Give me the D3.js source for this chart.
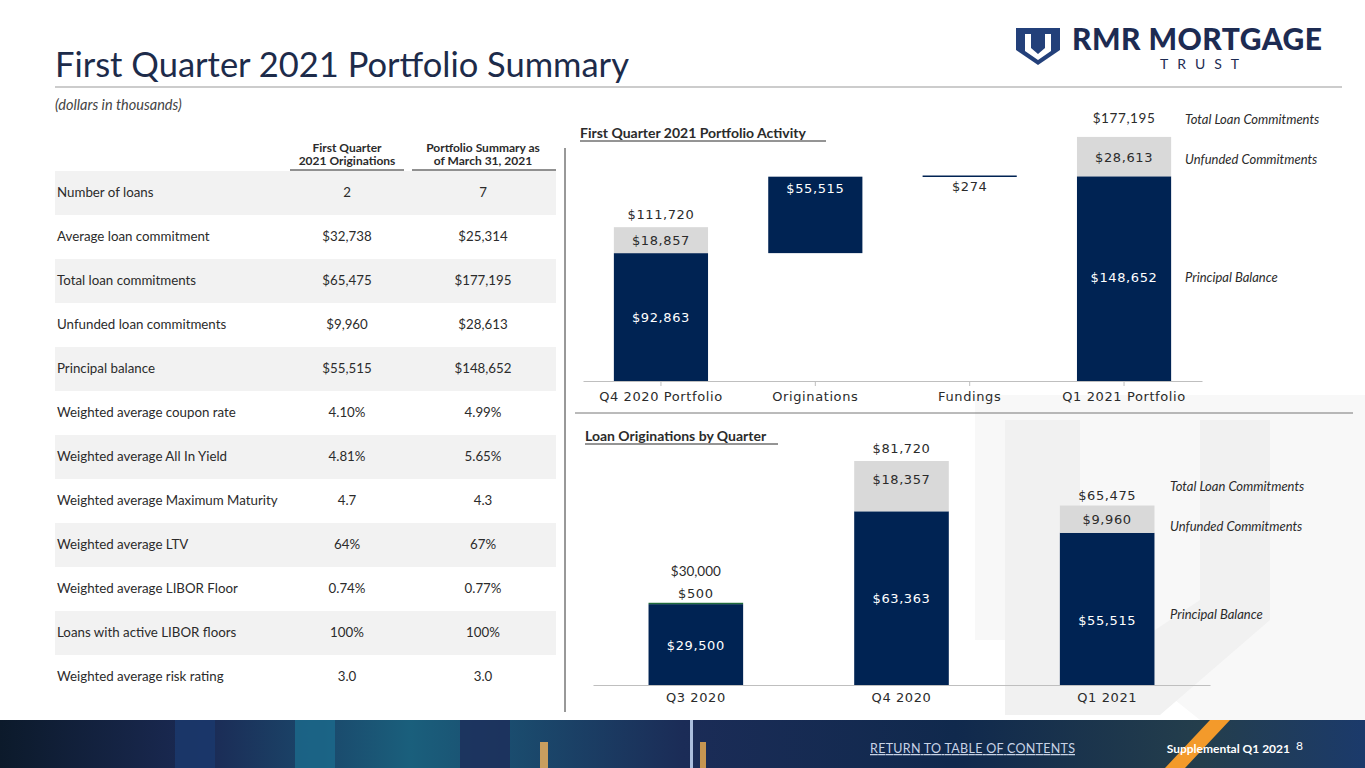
<!DOCTYPE html>
<html><head><meta charset="utf-8">
<script src="https://cdn.jsdelivr.net/npm/d3@7"></script>
<style>
body{margin:0;background:#fff;}
text{font-family:Lato,"Open Sans",sans-serif;}
.num{font-family:"DejaVu Sans",sans-serif;font-size:13px;letter-spacing:0.6px;}
</style></head><body>
<svg id="s" width="1365" height="768"></svg>
<script>
// table
const tableRows = ["Number of loans","Average loan commitment","Total loan commitments","Unfunded loan commitments","Principal balance","Weighted average coupon rate","Weighted average All In Yield","Weighted average Maximum Maturity","Weighted average LTV","Weighted average LIBOR Floor","Loans with active LIBOR floors","Weighted average risk rating"];
const colOriginations = ["2","$32,738","$65,475","$9,960","$55,515","4.10%","4.81%","4.7","64%","0.74%","100%","3.0"];
const colPortfolio = ["7","$25,314","$177,195","$28,613","$148,652","4.99%","5.65%","4.3","67%","0.77%","100%","3.0"];
// waterfall
const wfCats = ["Q4 2020 Portfolio","Originations","Fundings","Q1 2021 Portfolio"];
const wfBase = [0, 92863, 148378, 0];
const wfPrincipal = [92863, 55515, 274, 148652];
const wfUnfunded = [18857, 0, 0, 28613];
const wfTotals = ["$111,720", null, null, "$177,195"];
// originations by quarter
const qCats = ["Q3 2020","Q4 2020","Q1 2021"];
const qPrincipal = [29500, 63363, 55515];
const qUnfunded = [500, 18357, 9960];
const qTotals = ["$30,000","$81,720","$65,475"];

const NAVY="#002353", GREY="#d9d9d9", TXT="#2b2b2b", TITLE="#1d2b4a";
const svg = d3.select("#s");

// watermark
svg.append("path").attr("d","M975,395 L1365,395 L1365,720 L1200,720 L1100,640 L975,640 Z").attr("fill","#f8f8f8");
svg.append("path").attr("d","M1005,420 L1080,420 L1080,600 L1140,640 L1200,600 L1200,420 L1270,420 L1270,620 L1160,715 L1005,715 Z").attr("fill","#f1f1f1");

// header
svg.append("text").attr("x",55).attr("y",77).attr("font-size",34.5).attr("fill",TITLE).text("First Quarter 2021 Portfolio Summary");
svg.append("line").attr("x1",55).attr("x2",1342).attr("y1",87).attr("y2",87).attr("stroke","#999").attr("stroke-width",1);
svg.append("text").attr("x",55).attr("y",110).attr("font-size",14.5).attr("font-style","italic").attr("fill","#444").text("(dollars in thousands)");

// logo
const lg = svg.append("g").attr("transform","translate(1016,28)");
lg.append("path").attr("d","M0,0 L44,0 L44,22 L22,37 L0,22 Z").attr("fill","#23407a");
lg.append("path").attr("d","M9,6 L15,6 L15,20 L22,26 L29,20 L29,6 L35,6 L35,23 L22,32 L9,23 Z").attr("fill","#fff");
svg.append("text").attr("x",1072).attr("y",50).attr("font-size",30).attr("font-weight",900).attr("fill","#1d2b52").attr("textLength",250).text("RMR MORTGAGE");
svg.append("text").attr("x",1160).attr("y",69).attr("font-size",14).attr("letter-spacing",9).attr("fill","#1d2b52").text("TRUST");

// table
const rowY = d3.scaleBand().domain(d3.range(tableRows.length)).range([171,699]);
const colX = [347, 483];
const tg = svg.append("g");
[["First Quarter","2021 Originations"],["Portfolio Summary as","of March 31, 2021"]].forEach((h,i)=>{
  h.forEach((t,j)=>tg.append("text").attr("x",colX[i]).attr("y",152+j*13).attr("text-anchor","middle").attr("font-size",12).attr("font-weight",700).attr("fill",TXT).text(t));
});
tg.append("line").attr("x1",290).attr("x2",404).attr("y1",170).attr("y2",170).attr("stroke","#222");
tg.append("line").attr("x1",412).attr("x2",556).attr("y1",170).attr("y2",170).attr("stroke","#222");
tableRows.forEach((r,i)=>{
  const y=rowY(i);
  if(i%2===0) tg.append("rect").attr("x",55).attr("y",y).attr("width",501).attr("height",rowY.bandwidth()).attr("fill","#f2f2f2");
  const cy=y+rowY.bandwidth()/2+4;
  tg.append("text").attr("x",57).attr("y",cy).attr("font-size",13.3).attr("fill",TXT).text(r);
  tg.append("text").attr("x",colX[0]).attr("y",cy).attr("text-anchor","middle").attr("font-size",13.3).attr("fill",TXT).text(colOriginations[i]);
  tg.append("text").attr("x",colX[1]).attr("y",cy).attr("text-anchor","middle").attr("font-size",13.3).attr("fill",TXT).text(colPortfolio[i]);
});
svg.append("line").attr("x1",565).attr("x2",565).attr("y1",148).attr("y2",712).attr("stroke","#333");

function legendText(x,y,t){svg.append("text").attr("x",x).attr("y",y).attr("font-size",13).attr("font-style","italic").attr("fill",TXT).text(t);}
function chartTitle(x,y,t,w){svg.append("text").attr("x",x).attr("y",y).attr("font-size",14).attr("font-weight",700).attr("fill",TXT).text(t);
  svg.append("line").attr("x1",x).attr("x2",x+w).attr("y1",y+3).attr("y2",y+3).attr("stroke",TXT);}

// waterfall chart
chartTitle(580,138,"First Quarter 2021 Portfolio Activity",246);
const x1 = d3.scaleBand().domain(wfCats).range([583,1202]).paddingInner(0.39).paddingOuter(0.2);
const y1 = d3.scaleLinear().domain([0,177195]).range([381,137]);
const g1 = svg.append("g");
g1.append("g").attr("transform","translate(0,381)").call(d3.axisBottom(x1).tickSize(5).tickSizeOuter(0))
  .call(a=>{a.select(".domain").attr("stroke","#bfbfbf");a.selectAll(".tick line").attr("stroke","#bfbfbf");
    a.selectAll("text").attr("class","num").attr("fill",TXT).attr("dy","0.9em");});
wfCats.forEach((c,i)=>{
  const x=x1(c), w=x1.bandwidth(), b=wfBase[i], p=wfPrincipal[i], u=wfUnfunded[i];
  const top=y1(b+p), bot=y1(b);
  if(i===2){
    g1.append("line").attr("x1",x).attr("x2",x+w).attr("y1",top).attr("y2",top).attr("stroke",NAVY).attr("stroke-width",1.5);
    g1.append("text").attr("class","num").attr("x",x+w/2).attr("y",top+15).attr("text-anchor","middle").attr("fill",TXT).text("$"+d3.format(",")(p));
    return;
  }
  g1.append("rect").attr("x",x).attr("y",top).attr("width",w).attr("height",bot-top).attr("fill",NAVY);
  const ly = i===1 ? top+16 : (i===3 ? top+106 : (top+bot)/2+5);
  g1.append("text").attr("class","num").attr("x",x+w/2).attr("y",ly).attr("text-anchor","middle").attr("fill","#fff").text("$"+d3.format(",")(p));
  if(u){
    const ut=y1(b+p+u);
    g1.append("rect").attr("x",x).attr("y",ut).attr("width",w).attr("height",top-ut).attr("fill",GREY);
    g1.append("text").attr("class","num").attr("x",x+w/2).attr("y",(ut+top)/2+5).attr("text-anchor","middle").attr("fill",TXT).text("$"+d3.format(",")(u));
  }
  if(wfTotals[i]) g1.append("text").attr("class","num").attr("x",x+w/2).attr("y",y1(b+p+u)-(i===3?14:8)).attr("text-anchor","middle").attr("fill",TXT).style("font-family",i===3?"Lato":null).style("font-size",i===3?"13.5px":null).text(wfTotals[i]);
});
legendText(1185,124,"Total Loan Commitments");
legendText(1185,164,"Unfunded Commitments");
legendText(1185,282,"Principal Balance");

svg.append("line").attr("x1",575).attr("x2",1353).attr("y1",413).attr("y2",413).attr("stroke","#777");

// originations by quarter
chartTitle(585,441,"Loan Originations by Quarter",193);
const x2 = d3.scaleBand().domain(qCats).range([593,1210]).paddingInner(0.54).paddingOuter(0.27);
const y2 = d3.scaleLinear().domain([0,81720]).range([685,461]);
const g2 = svg.append("g");
g2.append("g").attr("transform","translate(0,685)").call(d3.axisBottom(x2).tickSize(0).tickSizeOuter(0))
  .call(a=>{a.select(".domain").attr("stroke","#bfbfbf");
    a.selectAll("text").attr("class","num").attr("fill",TXT).attr("dy","1.1em");});
qCats.forEach((c,i)=>{
  const x=x2(c), w=x2.bandwidth(), p=qPrincipal[i], u=qUnfunded[i];
  const top=y2(p), ut=y2(p+u);
  g2.append("rect").attr("x",x).attr("y",top).attr("width",w).attr("height",685-top).attr("fill",NAVY);
  g2.append("text").attr("class","num").attr("x",x+w/2).attr("y",i===0?(top+685)/2+5:top+92).attr("text-anchor","middle").attr("fill","#fff").text("$"+d3.format(",")(p));
  if(i===0){
    g2.append("rect").attr("x",x).attr("y",ut).attr("width",w).attr("height",top-ut).attr("fill","#1f6b3a");
    g2.append("text").attr("class","num").attr("x",x+w/2).attr("y",ut-5).attr("text-anchor","middle").attr("fill",TXT).text("$"+u);
    g2.append("text").attr("x",x+w/2).attr("y",ut-27).attr("text-anchor","middle").attr("font-size",13.5).attr("fill",TXT).text(qTotals[i]);
  } else {
    g2.append("rect").attr("x",x).attr("y",ut).attr("width",w).attr("height",top-ut).attr("fill",GREY);
    g2.append("text").attr("class","num").attr("x",x+w/2).attr("y",(ut+top)/2+(i===1?-2:5)).attr("text-anchor","middle").attr("fill",TXT).text("$"+d3.format(",")(u));
    g2.append("text").attr("class","num").attr("x",x+w/2).attr("y",ut-(i===1?8:6)).attr("text-anchor","middle").attr("fill",TXT).text(qTotals[i]);
  }
});
legendText(1170,491,"Total Loan Commitments");
legendText(1170,531,"Unfunded Commitments");
legendText(1170,619,"Principal Balance");

// footer
const defs = svg.append("defs");
const gr = defs.append("linearGradient").attr("id","fg");
[["0%","#0c1a2b"],["15%","#1b2a55"],["30%","#1a5f7c"],["50%","#1b2c57"],["70%","#10294d"],["88%","#243e4c"],["100%","#1b3a6b"]].forEach(s=>gr.append("stop").attr("offset",s[0]).attr("stop-color",s[1]));
svg.append("rect").attr("x",0).attr("y",720).attr("width",1365).attr("height",48).attr("fill","url(#fg)");
[[175,40,"#1a3a6e"],[295,40,"#1c6a8c"],[460,50,"#1d2d5a"],[540,8,"#f4b45c"],[700,6,"#f0b050"],[690,3,"#cfe3ff"]].forEach(d=>
  svg.append("rect").attr("x",d[0]).attr("y",d[2]==="#f4b45c"||d[2]==="#f0b050"?742:720).attr("width",d[1]).attr("height",48).attr("fill",d[2]).attr("opacity",0.8));
svg.append("path").attr("d","M1165,768 L1210,720 L1230,720 L1185,768 Z").attr("fill","#f39a2b");
svg.append("text").attr("x",870).attr("y",753).attr("font-size",12.5).attr("fill","#c8d3e6").attr("text-decoration","underline").attr("textLength",205).text("RETURN TO TABLE OF CONTENTS");
svg.append("text").attr("x",1290).attr("y",753).attr("text-anchor","end").attr("font-size",12).attr("font-weight",700).attr("fill","#fff").text("Supplemental Q1 2021");
svg.append("text").attr("x",1296).attr("y",750).attr("font-size",12).attr("fill","#fff").text("8");
</script></body></html>
